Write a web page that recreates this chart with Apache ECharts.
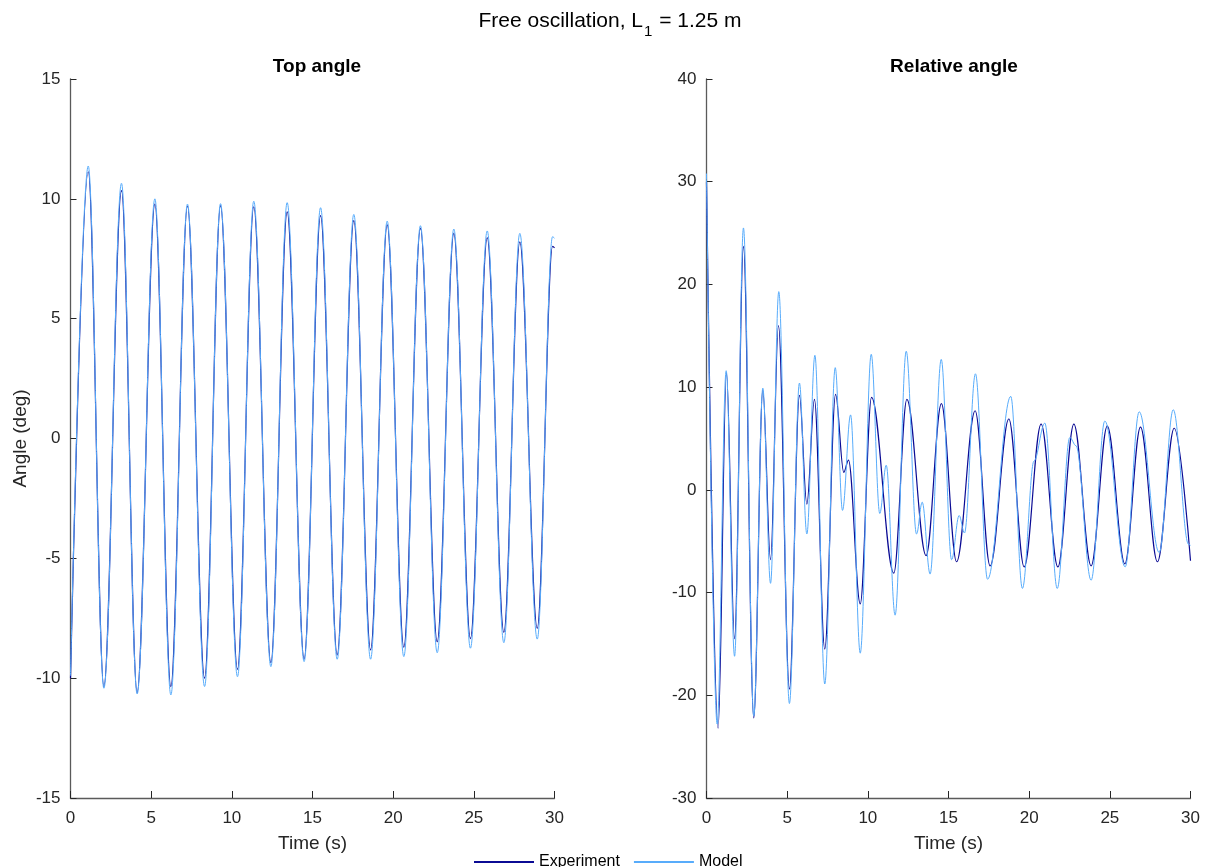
<!DOCTYPE html>
<html>
<head>
<meta charset="utf-8">
<script src="https://cdn.jsdelivr.net/npm/echarts@6/dist/echarts.min.js"></script>
<style>
html,body{margin:0;padding:0;background:#ffffff;}
#chart{width:1211px;height:867px;}
</style>
</head>
<body>
<div id="chart"></div>
<script>
// ---------------- data ----------------
// Top angle: extrema (peaks / troughs) of each curve, time in s, angle in deg
const topExpT   = [0, 1.10, 2.07, 3.16, 4.13, 5.23, 6.22, 7.25, 8.31, 9.30, 10.35, 11.36, 12.42, 13.43, 14.48, 15.50, 16.53, 17.56, 18.60, 19.63, 20.66, 21.69, 22.73, 23.76, 24.79, 25.83, 26.86, 27.85, 28.93, 29.88, 30];
const topExpV   = [-10.0, 11.13, -10.35, 10.34, -10.6, 9.78, -10.35, 9.70, -10.0, 9.72, -9.63, 9.67, -9.35, 9.46, -9.2, 9.30, -9.03, 9.09, -8.82, 8.91, -8.71, 8.77, -8.48, 8.56, -8.35, 8.38, -8.09, 8.2, -7.92, 8.02, 7.95];
const topModT   = [0, 1.10, 2.07, 3.16, 4.13, 5.23, 6.22, 7.25, 8.31, 9.30, 10.35, 11.36, 12.42, 13.43, 14.48, 15.50, 16.53, 17.56, 18.60, 19.63, 20.66, 21.69, 22.73, 23.76, 24.79, 25.83, 26.86, 27.85, 28.93, 29.88, 30];
const topModV   = [-9.9, 11.37, -10.42, 10.65, -10.66, 10.0, -10.7, 9.78, -10.35, 9.8, -9.94, 9.9, -9.52, 9.84, -9.31, 9.63, -9.21, 9.35, -9.21, 9.07, -9.1, 8.88, -8.94, 8.74, -8.75, 8.66, -8.52, 8.56, -8.37, 8.42, 8.35];

// Relative angle: extrema (and a few shoulders) of each curve
const relExpT = [0, 0.72, 1.24, 1.74, 2.29, 2.93, 3.49, 3.97, 4.46, 5.14, 5.76, 6.22, 6.69, 7.33, 8.00, 8.51, 8.80, 9.53, 10.23, 11.61, 12.42, 13.61, 14.56, 15.50, 16.65, 17.58, 18.74, 19.69, 20.74, 21.78, 22.77, 23.84, 24.84, 25.93, 26.90, 27.95, 28.99, 30];
const relExpV = [30.0, -23.2, 11.4, -14.5, 23.7, -22.2, 9.7, -6.8, 16.0, -19.4, 9.2, -1.4, 8.8, -15.5, 9.3, 1.7, 2.9, -11.1, 9.0, -8.1, 8.8, -6.4, 8.4, -7.0, 7.7, -7.4, 6.9, -7.5, 6.4, -7.5, 6.4, -7.4, 6.2, -7.2, 6.1, -7.0, 6.0, -6.9];
const relModT = [0, 0.66, 1.22, 1.74, 2.29, 2.93, 3.49, 3.97, 4.48, 5.14, 5.76, 6.22, 6.72, 7.33, 7.98, 8.43, 8.93, 9.53, 10.21, 10.74, 11.14, 11.69, 12.38, 13.02, 13.37, 13.86, 14.55, 15.19, 15.66, 15.99, 16.67, 17.42, 18.86, 19.58, 20.30, 20.97, 21.74, 22.52, 22.90, 23.84, 24.69, 25.95, 26.82, 28.06, 28.93, 29.88, 30];
const relModV = [30.8, -22.8, 11.6, -16.2, 25.5, -22.0, 9.9, -9.1, 19.3, -20.8, 10.4, -4.3, 13.1, -18.9, 11.9, -2.0, 7.3, -15.9, 13.2, -2.3, 2.4, -12.2, 13.5, -4.3, -1.2, -8.2, 12.7, -6.8, -2.5, -4.2, 11.3, -8.7, 9.1, -9.6, 2.8, 6.5, -9.6, 5.1, 4.3, -8.8, 6.7, -7.5, 7.6, -6.1, 7.8, -5.3, -5.4];

const seriesNames = ['Experiment', 'Model'];
const xTickInterval = 5;
const topYRange = [-15, 15, 5];
const relYRange = [-30, 40, 10];

// ---------------- styling ----------------
const FONT = '"Liberation Sans", Arial, Helvetica, sans-serif';
const DARK = '#0b0b94';
const LIGHT = '#58acfb';
const AX = '#262626';
const AXLINE = '#5a5a5a';

function pairs(t, v) { return t.map((x, i) => [x, v[i]]); }

function xAxisCfg(gi) {
  return {
    type: 'value', gridIndex: gi, min: 0, max: 30, interval: xTickInterval,
    name: 'Time (s)', nameLocation: 'middle', nameGap: 36,
    nameTextStyle: { fontSize: 19, color: AX, fontFamily: FONT },
    axisLine: { show: true, onZero: false, lineStyle: { color: AXLINE, width: 1.3 } },
    axisTick: { show: true, inside: true, length: 7, lineStyle: { color: AX, width: 1 } },
    axisLabel: { fontSize: 17, color: AX, margin: 12, fontFamily: FONT },
    splitLine: { show: false }
  };
}
function yAxisCfg(gi, r, name) {
  return {
    type: 'value', gridIndex: gi, min: r[0], max: r[1], interval: r[2],
    name: name || '', nameLocation: 'middle', nameGap: 40, nameRotate: 90,
    nameTextStyle: { fontSize: 19, color: AX, fontFamily: FONT },
    axisLine: { show: true, onZero: false, lineStyle: { color: AXLINE, width: 1.3 } },
    axisTick: { show: true, inside: true, length: 6, lineStyle: { color: AX, width: 1 } },
    axisLabel: { fontSize: 17, color: AX, margin: 10, fontFamily: FONT },
    splitLine: { show: false }
  };
}
function lineSeries(name, xi, data, color, width, z) {
  return {
    name: name, type: 'line', xAxisIndex: xi, yAxisIndex: xi, data: data,
    smooth: 0.36, smoothMonotone: 'x', symbol: 'none', showSymbol: false,
    lineStyle: { color: color, width: width }, itemStyle: { color: color },
    z: z, animation: false
  };
}

const chart = echarts.init(document.getElementById('chart'), null, { renderer: 'canvas' });
chart.setOption({
  backgroundColor: '#ffffff',
  animation: false,
  textStyle: { fontFamily: FONT },
  title: [
    {
      text: '{a|Free oscillation, L}{s|1}{a| = 1.25 m}',
      left: 605, textAlign: 'center', top: 6,
      textStyle: {
        fontWeight: 'normal',
        rich: {
          a: { fontSize: 21, fontWeight: 'normal', color: '#000', fontFamily: FONT, lineHeight: 30, verticalAlign: 'top' },
          s: { fontSize: 15, fontWeight: 'normal', color: '#000', fontFamily: FONT, lineHeight: 16, verticalAlign: 'top', padding: [13, 1, 0, 1] }
        }
      }
    },
    { text: 'Top angle', left: 312, textAlign: 'center', top: 52,
      textStyle: { fontSize: 19, fontWeight: 'bold', color: '#000', fontFamily: FONT } },
    { text: 'Relative angle', left: 949, textAlign: 'center', top: 52,
      textStyle: { fontSize: 19, fontWeight: 'bold', color: '#000', fontFamily: FONT } }
  ],
  legend: {
    data: seriesNames, left: 469, top: 849, itemWidth: 60, itemHeight: 2, itemGap: 14,
    icon: 'rect',
    textStyle: { fontSize: 16, color: '#000', fontFamily: FONT }
  },
  grid: [
    { left: 70.5, top: 79, width: 484, height: 719, containLabel: false },
    { left: 706.5, top: 79, width: 484, height: 719, containLabel: false }
  ],
  xAxis: [xAxisCfg(0), xAxisCfg(1)],
  yAxis: [yAxisCfg(0, topYRange, 'Angle (deg)'), yAxisCfg(1, relYRange, '')],
  series: [
    lineSeries(seriesNames[0], 0, pairs(topExpT, topExpV), DARK, 1.2, 2),
    lineSeries(seriesNames[1], 0, pairs(topModT, topModV), LIGHT, 1, 3),
    lineSeries(seriesNames[0], 1, pairs(relExpT, relExpV), DARK, 1.2, 2),
    lineSeries(seriesNames[1], 1, pairs(relModT, relModV), LIGHT, 1, 3)
  ]
});
</script>
</body>
</html>
